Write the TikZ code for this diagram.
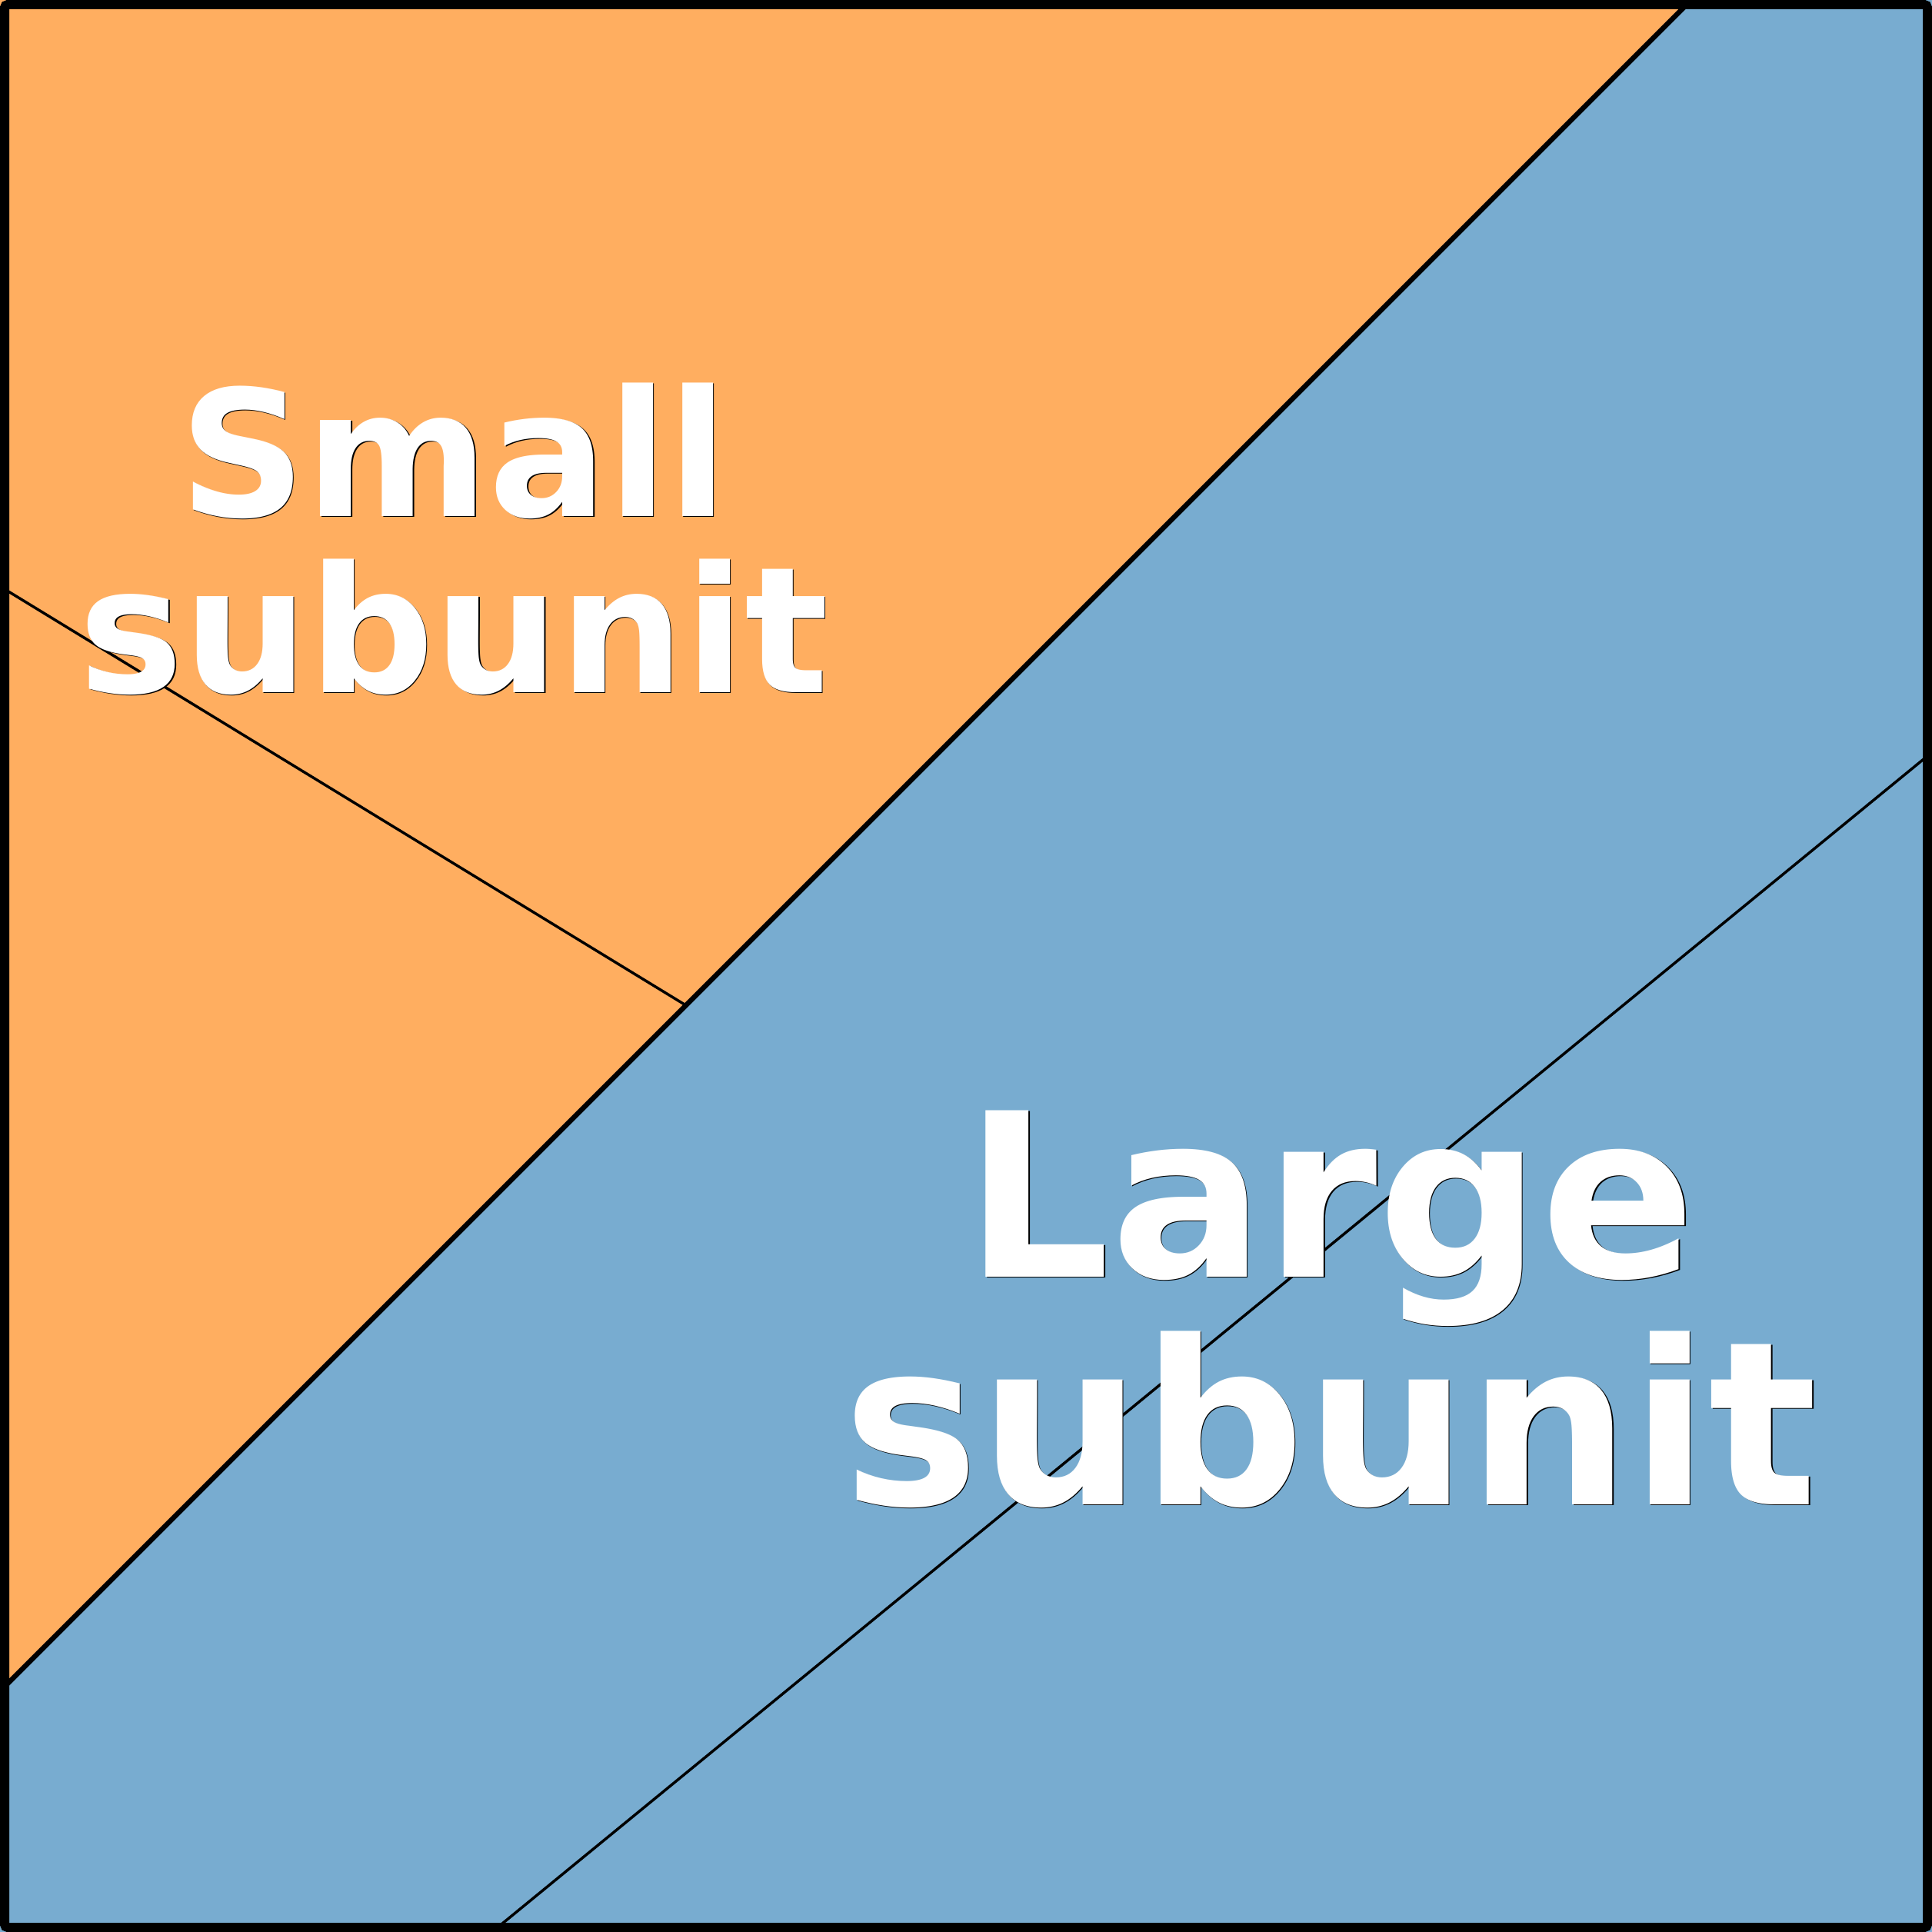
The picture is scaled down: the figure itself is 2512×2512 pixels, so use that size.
\documentclass[tikz,border=0pt]{standalone}
\usepackage{fontspec}
\setmainfont{DejaVu Sans}
\definecolor{smallorange}{RGB}{255,174,96}
\definecolor{largeblue}{RGB}{120,172,208}

\begin{document}
\begin{tikzpicture}[x=0.1mm,y=-0.1mm,
    thick line/.style={line width=0.65mm},
    thin line/.style={line width=0.35mm},
    small text/.style={font=\fontsize{65}{65}\selectfont\bfseries,anchor=base,inner sep=0pt,text=white},
    large text/.style={font=\fontsize{84.5}{84.5}\selectfont\bfseries,anchor=base,inner sep=0pt,text=white},
    shadow/.style={text=black,xshift=0.15mm,yshift=-0.15mm}]
   \useasboundingbox (0,0) rectangle (2512,2512);
   % regions
   \fill[largeblue] (0,0) rectangle (2512,2512);
   \fill[smallorange] (0,0) -- (2199,0) -- (0,2199) -- cycle;
   \coordinate (top) at (2193,6);
   \coordinate (left) at (6,2193);
   \coordinate (s1) at (6,766);
   \coordinate (s2) at (890,1306);
   \coordinate (l1) at (2506,983);
   \coordinate (l2) at (647,2506);
   \path[-,thin line] (s1) edge (s2);
   \path[-,thin line] (l1) edge (l2);
   \path[-,thick line] (top) edge (left);
   % labels
   \node[small text,shadow] (small a shadow) at (590,671) {Small};
   \node[small text] (small a) at (590,671) {Small};
   \node[small text,shadow] (small b shadow) at (590,900) {subunit};
   \node[small text] (small b) at (590,900) {subunit};
   \node[large text,shadow] (large a shadow) at (1730,1660) {Large};
   \node[large text] (large a) at (1730,1660) {Large};
   \node[large text,shadow] (large b shadow) at (1730,1956) {subunit};
   \node[large text] (large b) at (1730,1956) {subunit};
   \draw[line width=1.2mm,rounded corners=0.4mm] (6,6) rectangle (2506,2506);
  \end{tikzpicture}
\end{document}
